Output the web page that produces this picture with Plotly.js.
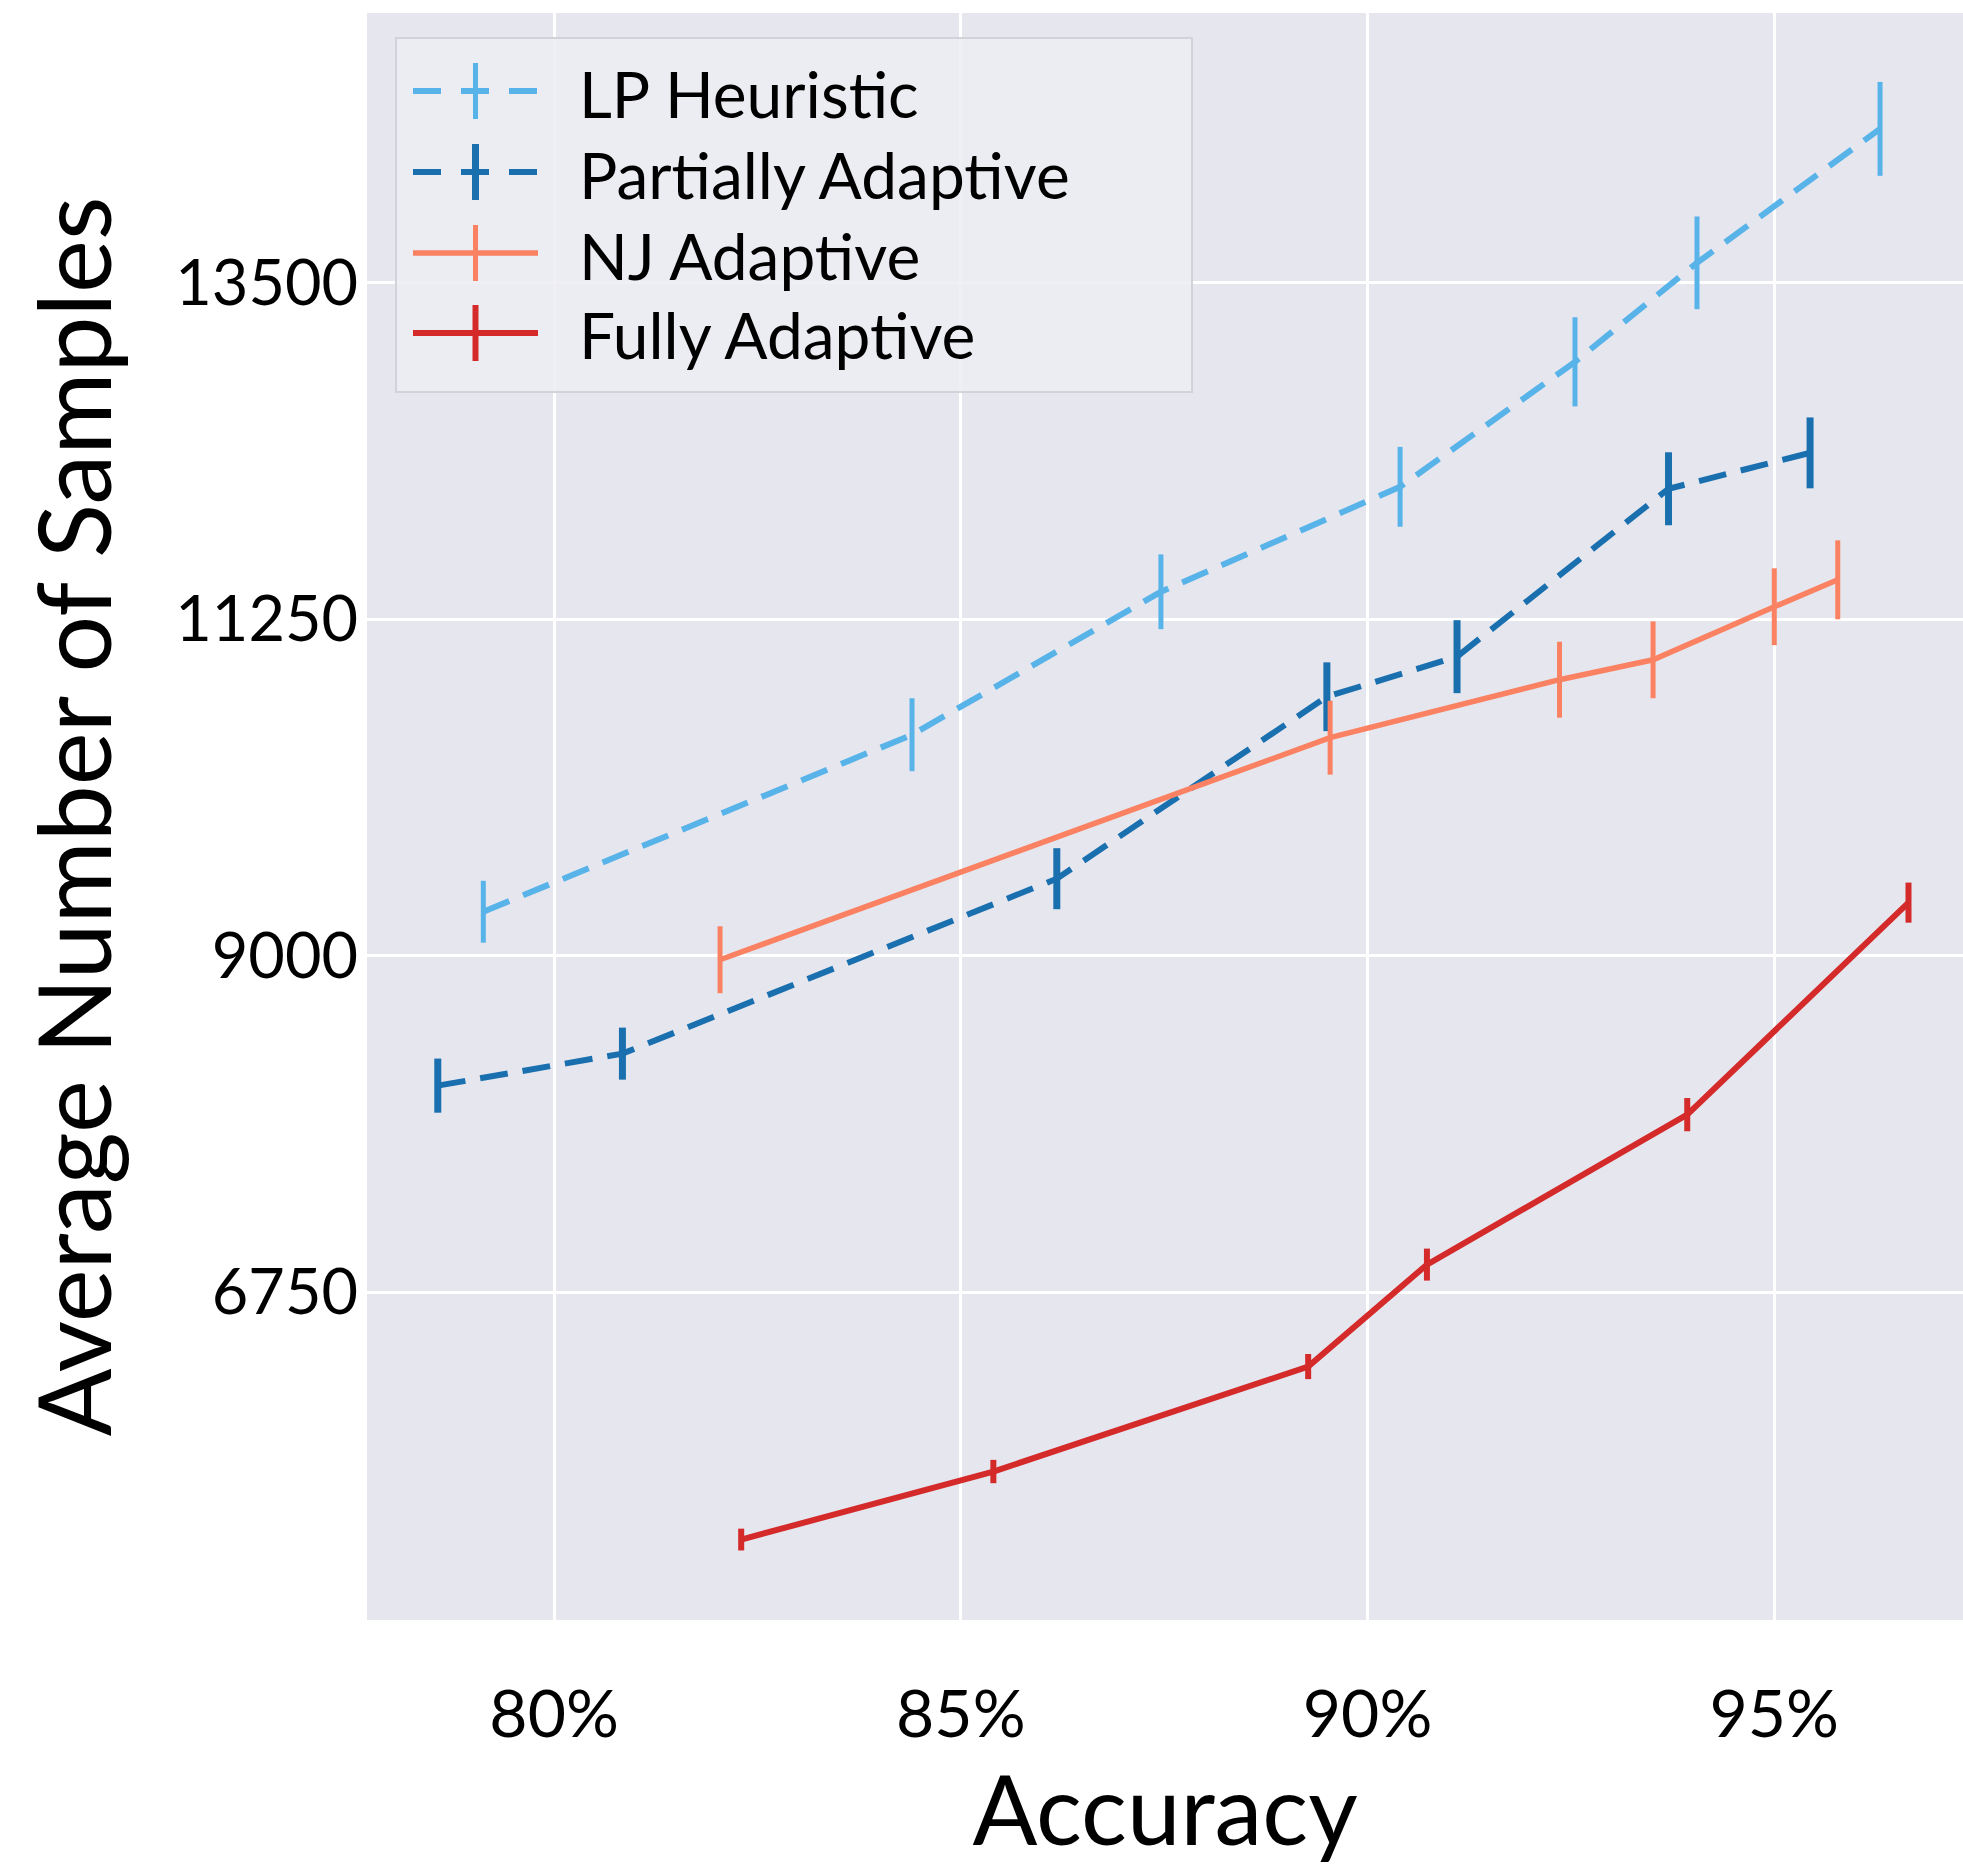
<!DOCTYPE html>
<html>
<head>
<meta charset="utf-8">
<script src="https://cdn.plot.ly/plotly-3.0.1.min.js"></script>
<style>
  html, body { margin: 0; padding: 0; background: #ffffff; }
  #chart { width: 1963px; height: 1865px; }
</style>
</head>
<body>
<div id="chart"></div>
<script>
// ---- data ----
const seriesNames = ["LP Heuristic", "Partially Adaptive", "NJ Adaptive", "Fully Adaptive"];

const lpX   = [79.13, 84.40, 87.46, 90.40, 92.55, 94.05, 96.30];
const lpY   = [9294, 10478, 11434, 12136, 12972, 13634, 14530];
const lpErr = [207, 244, 250, 267, 298, 310, 314];

const paX   = [78.57, 80.84, 86.18, 89.50, 91.10, 93.70, 95.44];
const paY   = [8131, 8345, 9515, 10732, 11000, 12123, 12363];
const paErr = [181, 174, 204, 230, 244, 244, 237];

const njX   = [82.04, 89.54, 92.36, 93.51, 95.00, 95.78];
const njY   = [8973, 10458, 10846, 10979, 11334, 11514];
const njErr = [224, 247, 254, 257, 257, 264];

const faX   = [82.30, 85.40, 89.27, 90.73, 93.93, 96.65];
const faY   = [5095, 5550, 6252, 6934, 7937, 9355];
const faErr = [73, 78, 84, 107, 111, 134];

const xTickVals = [80, 85, 90, 95];
const xTickText = ["80%", "85%", "90%", "95%"];
const yTickVals = [6750, 9000, 11250, 13500];
const yTickText = ["6750", "9000", "11250", "13500"];

const xTitle = "Accuracy";
const yTitle = "Average Number of Samples";

// ---- styles ----
const colors = ["#58b3e8", "#1a6fae", "#fa8262", "#d42a2a"];
const dashes = ["28px,15px", "28px,15px", "solid", "solid"];
const widths = [6, 6, 5.5, 6];
const errW   = [5, 7, 5, 6];

const xs = [lpX, paX, njX, faX];
const ys = [lpY, paY, njY, faY];
const es = [lpErr, paErr, njErr, faErr];

const traces = seriesNames.map((name, i) => ({
  type: "scatter",
  mode: "lines",
  name: name,
  x: xs[i],
  y: ys[i],
  line: { color: colors[i], width: widths[i], dash: dashes[i] },
  error_y: { type: "data", array: es[i], visible: true, color: colors[i], thickness: errW[i], width: 0 },
  showlegend: false,
  hoverinfo: "x+y"
}));

// ---- layout geometry (pixels) ----
const W = 1963, H = 1865;
const mL = 367, mR = 0, mT = 13, mB = 245;
const plotW = W - mL - mR, plotH = H - mT - mB;
const px = x => (x - mL) / plotW;          // pixel -> paper x
const py = y => (H - mB - y) / plotH;      // pixel -> paper y

const font = "Lato, 'Open Sans', sans-serif";

// custom legend (matplotlib style: line with vertical error bar through it)
const shapes = [];
const annotations = [];
shapes.push({
  type: "rect", xref: "paper", yref: "paper",
  x0: px(396), x1: px(1192), y0: py(392), y1: py(38),
  fillcolor: "rgba(236,236,243,0.85)", line: { color: "#d2d2d8", width: 2 }, layer: "above"
});
const rowY = [91, 172, 253, 333];
seriesNames.forEach((name, i) => {
  shapes.push({
    type: "line", xref: "paper", yref: "paper",
    x0: px(413), x1: px(538), y0: py(rowY[i]), y1: py(rowY[i]),
    line: { color: colors[i], width: widths[i], dash: dashes[i] === "solid" ? "solid" : "28px,20px" },
    layer: "above"
  });
  shapes.push({
    type: "line", xref: "paper", yref: "paper",
    x0: px(475.5), x1: px(475.5), y0: py(rowY[i] - 28), y1: py(rowY[i] + 28),
    line: { color: colors[i], width: errW[i] }, layer: "above"
  });
  annotations.push({
    xref: "paper", yref: "paper", x: px(577), y: py(rowY[i] + 2),
    xanchor: "left", yanchor: "middle", showarrow: false,
    text: name, font: { family: font, size: 64, color: "#000000" }
  });
});

const layout = {
  width: W, height: H,
  margin: { l: mL, r: mR, t: mT, b: mB, pad: 0 },
  paper_bgcolor: "#ffffff",
  plot_bgcolor: "#e6e6ef",
  showlegend: false,
  font: { family: font, color: "#000000" },
  xaxis: {
    range: [77.70, 97.32],
    tickvals: xTickVals, ticktext: xTickText,
    showgrid: true, gridcolor: "#ffffff", gridwidth: 3,
    zeroline: false, showline: false, ticks: "",
    ticklabelstandoff: 50,
    tickfont: { family: font, size: 66, color: "#000000" },
    title: { text: xTitle, font: { family: font, size: 96, color: "#000000" }, standoff: 40 },
    automargin: false
  },
  yaxis: {
    range: [4557, 15305],
    tickvals: yTickVals, ticktext: yTickText,
    showgrid: true, gridcolor: "#ffffff", gridwidth: 3,
    zeroline: false, showline: false, ticks: "",
    ticklabelstandoff: 8,
    tickfont: { family: font, size: 63, color: "#000000" },
    title: { text: yTitle, font: { family: font, size: 100, color: "#000000" }, standoff: 30 },
    automargin: false
  },
  shapes: shapes,
  annotations: annotations
};

Plotly.newPlot("chart", traces, layout, { displayModeBar: false, staticPlot: true });
</script>
</body>
</html>
